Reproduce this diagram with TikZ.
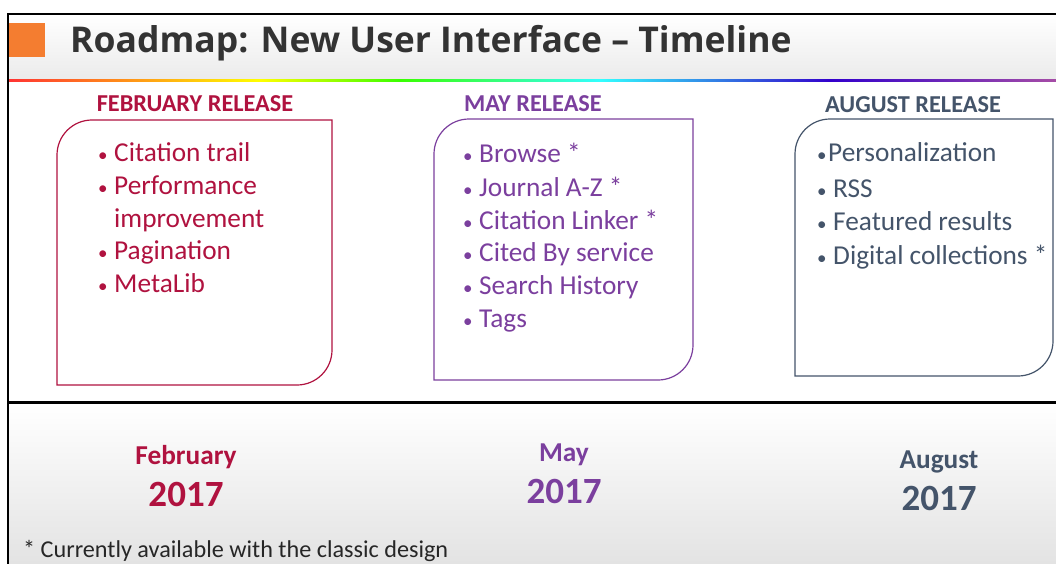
\documentclass[tikz,border=0pt]{standalone}
\usepackage{fontspec}
\setmainfont{Carlito}
\newfontfamily\titlefont{Open Sans}
\usetikzlibrary{positioning}

\definecolor{febred}{HTML}{B0123F}
\definecolor{maypurple}{HTML}{7B3F9E}
\definecolor{augslate}{HTML}{44546A}
\definecolor{titlegray}{HTML}{333333}
\definecolor{sqorange}{HTML}{F47D30}

\tikzset{x=1pt, y=-1pt}
\tikzset{
  heading/.style={font=\fontsize{24.3}{28}\selectfont\bfseries, anchor=base},
  item/.style={font=\fontsize{27.3}{32}\selectfont, anchor=base west, inner sep=0pt},
  month/.style={font=\fontsize{27.3}{30}\selectfont\bfseries, anchor=base},
  year/.style={font=\fontsize{37}{40}\selectfont\bfseries, anchor=base},
  relbox/.style={line width=1.2pt}
}
\newcommand{\bdot}{{\fontsize{19}{19}\selectfont •}}
\newcommand{\bul}{\makebox[16pt][l]{\bdot}}
\newcommand{\nobul}{\hspace*{16pt}}
% box with round top left and bottom right corners: x1,y1,x2,y2
\newcommand{\relpath}[4]{(#1,#4) -- (#1,#2+35) .. controls (#1,#2+15.7) and (#1+15.7,#2) .. (#1+35,#2)
  -- (#3,#2) -- (#3,#4-35) .. controls (#3,#4-15.7) and (#3-15.7,#4) .. (#3-35,#4) -- cycle}

\begin{document}
\begin{tikzpicture}
\useasboundingbox (0,0) rectangle (1056,564);
\fill[white] (0,0) rectangle (1056,564);

% title band
\shade[top color=white, bottom color=gray!16] (8,14) rectangle (1056,80);
\fill[sqorange] (8,23) rectangle (45,57);
\node[font=\titlefont\fontsize{35.5}{40}\selectfont\bfseries, text=titlegray, anchor=base west, inner sep=0pt]
  (title) at (70,53) {Roadmap: New User Interface – Timeline};
\foreach \xa/\xb/\ca/\cb in {8/120/red!80!white/orange!90!white, 120/260/orange!90!white/yellow, 260/400/yellow/green!70!lime,
  400/600/green!70!lime/cyan!80!white, 600/830/cyan!80!white/blue!60!violet, 830/1056/blue!60!violet/violet!70!white}
  \shade[left color=\ca, right color=\cb] (\xa,79.5) rectangle (\xb,81.5);

% frame
\draw[line width=1.5pt] (1056,14) -- (8,14) -- (8,564);

% releases
\node[heading, text=febred] (febhead) at (195,112) {FEBRUARY RELEASE};
\node[heading, text=maypurple] (mayhead) at (533,112) {MAY RELEASE};
\node[heading, text=augslate] (aughead) at (913,113) {AUGUST RELEASE};

\draw[relbox, febred] \relpath{57}{120}{332}{385};
\draw[relbox, maypurple] \relpath{434}{119}{693}{380};
\draw[relbox, augslate] \relpath{795}{119}{1053}{376};

\foreach \y/\t [count=\i] in {162/\bul Citation trail, 194.5/\bul Performance, 227/\nobul improvement,
  259.5/\bul Pagination, 292/\bul MetaLib}
  \node[item, text=febred] (feb-\i) at (98,\y) {\t};
\foreach \y/\t [count=\i] in {163/\bul Browse *, 196/\bul Journal A-Z *, 229/\bul Citation Linker *,
  261.5/\bul Cited By service, 294/\bul Search History, 327/\bul Tags}
  \node[item, text=maypurple] (may-\i) at (463,\y) {\t};
\foreach \y/\t [count=\i] in {162/\makebox[11pt][l]{\bdot}Personalization, 197/\bul RSS, 230.5/\bul Featured results,
  264/\bul Digital collections *}
  \node[item, text=augslate] (aug-\i) at (817,\y) {\t};

% timeline
\shade[top color=white, bottom color=gray!22] (8,404) rectangle (1056,564);
\draw[line width=1.5pt] (8,404) -- (8,564);
\draw[line width=3.5pt] (8,402.5) -- (1056,402.5);

\node[month, text=febred] (febmonth) at (186,464) {February};
\node[year, text=febred] (febyear) at (186,506) {2017};
\node[month, text=maypurple] (maymonth) at (564,461) {May};
\node[year, text=maypurple] (mayyear) at (564,503) {2017};
\node[month, text=augslate] (augmonth) at (939,468) {August};
\node[year, text=augslate] (augyear) at (939,510) {2017};

\node[font=\fontsize{24.2}{26}\selectfont, text=black!85, anchor=base west, inner sep=0pt]
  (note) at (23,557) {* Currently available with the classic design};
\end{tikzpicture}
\end{document}
